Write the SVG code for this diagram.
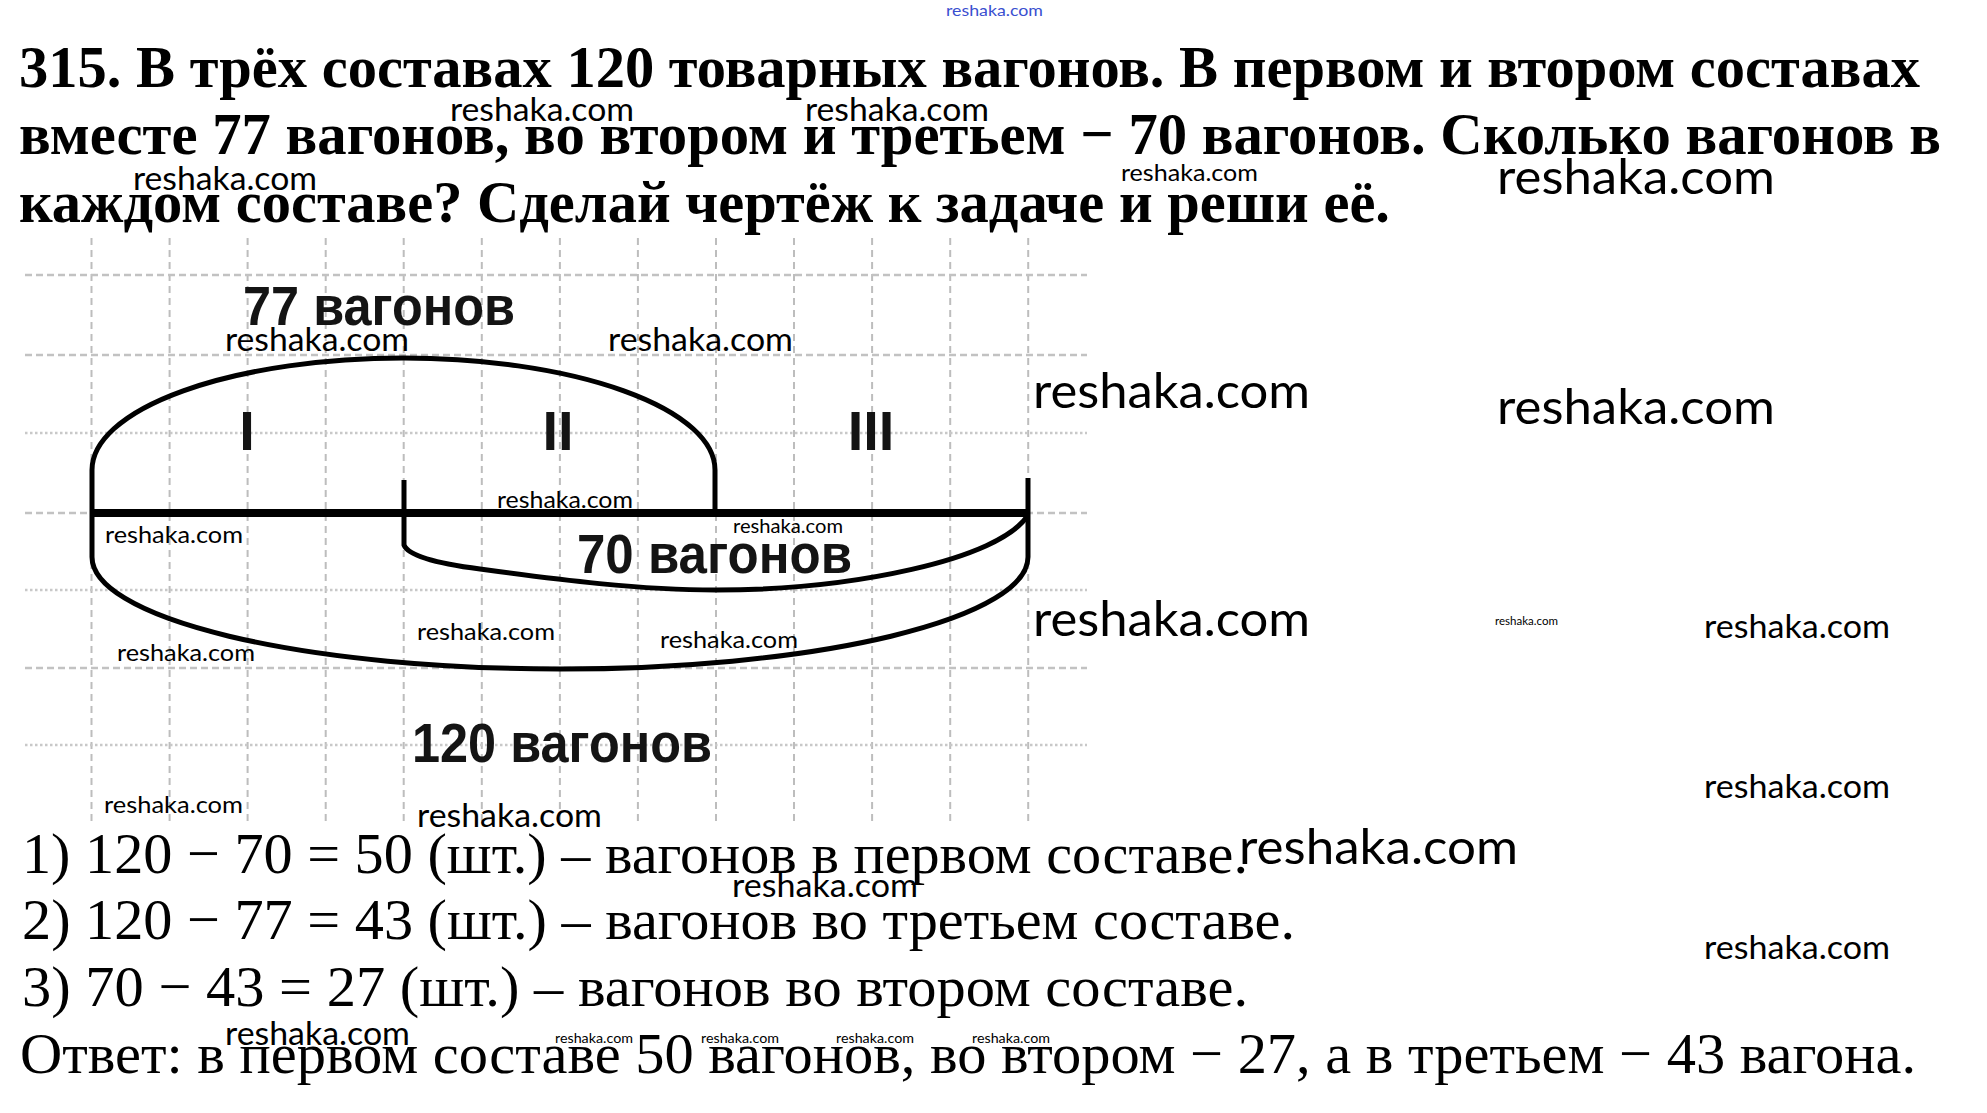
<svg xmlns="http://www.w3.org/2000/svg" width="1987" height="1113" viewBox="0 0 1987 1113">
<style>
.title{font-family:"Liberation Serif","Times New Roman",serif;font-weight:bold;font-size:60px;fill:#000}
.body{font-family:"Liberation Serif","Times New Roman",serif;font-size:58px;fill:#000}
.lbl{font-family:"Liberation Sans",Arial,sans-serif;font-weight:bold;font-size:56px;fill:#141414}
.wm{font-family:Lato,"Open Sans",sans-serif;fill:#000}
.gv{stroke:#bdbdbd;stroke-width:2;stroke-dasharray:7 5;fill:none}
.gh{stroke:#c2c2c2;stroke-width:2.5;stroke-dasharray:7 4;fill:none}
.gd{stroke:#c8c8c8;stroke-width:2.5;stroke-dasharray:2.5 2.5;fill:none}
.arc{stroke:#000;stroke-width:5;fill:none;stroke-linejoin:round}
</style>
<rect width="1987" height="1113" fill="#fff"/>
<g id="title">
<text class="title" x="19" y="87" textLength="1901" lengthAdjust="spacingAndGlyphs">315. В трёх составах 120 товарных вагонов. В первом и втором составах</text>
<text class="title" x="19" y="154" textLength="1922" lengthAdjust="spacingAndGlyphs">вместе 77 вагонов, во втором и третьем − 70 вагонов. Сколько вагонов в</text>
<text class="title" x="19" y="222" textLength="1371" lengthAdjust="spacingAndGlyphs">каждом составе? Сделай чертёж к задаче и реши её.</text>
</g>
<g id="grid">
<path class="gv" d="M91.5 238V822M169.6 238V822M247.6 238V822M325.7 238V822M403.7 238V822M481.8 238V822M559.9 238V822M637.9 238V822M716 238V822M794 238V822M872.1 238V822M950.2 238V822M1028.2 238V822"/>
<path class="gh" d="M25 275H1087M25 355H1087M25 513H1087M25 668H1087"/>
<path class="gd" d="M25 433H1087M25 590H1087M25 745H1087"/>
</g>
<g id="connectors">
<path class="arc" d="M92 513V470A311.5 112 0 0 1 715 470V513"/>
<path class="arc" d="M92 513V557A468 112 0 0 0 1028 557V513"/>
<path class="arc" d="M404 513V545Q410 560 480 569C560 580 640 590 716 590C850 590 1000 560 1028 515"/>
<path class="arc" d="M404 480V513M1028 478V513"/>
<path d="M90 513H1030" stroke="#000" stroke-width="8"/>
</g>
<g id="node-77">
<text class="lbl" x="243" y="325" textLength="272" lengthAdjust="spacingAndGlyphs">77 вагонов</text>
</g>
<g id="node-70">
<text class="lbl" x="577" y="573" textLength="275" lengthAdjust="spacingAndGlyphs">70 вагонов</text>
</g>
<g id="node-120">
<text class="lbl" x="412" y="762" textLength="300" lengthAdjust="spacingAndGlyphs">120 вагонов</text>
</g>
<g id="node-I"><text class="lbl" x="247" y="450" text-anchor="middle">I</text></g>
<g id="node-II"><text class="lbl" x="558" y="450" text-anchor="middle">II</text></g>
<g id="node-III"><text class="lbl" x="871" y="450" text-anchor="middle">III</text></g>
<g id="solution">
<text class="body" x="22" y="873" textLength="1226" lengthAdjust="spacingAndGlyphs">1) 120 − 70 = 50 (шт.) – вагонов в первом составе.</text>
<text class="body" x="22" y="939" textLength="1273" lengthAdjust="spacingAndGlyphs">2) 120 − 77 = 43 (шт.) – вагонов во третьем составе.</text>
<text class="body" x="22" y="1006" textLength="1226" lengthAdjust="spacingAndGlyphs">3) 70 − 43 = 27 (шт.) – вагонов во втором составе.</text>
<text class="body" x="20" y="1073" textLength="1896" lengthAdjust="spacingAndGlyphs">Ответ: в первом составе 50 вагонов, во втором − 27, а в третьем − 43 вагона.</text>
</g>
<g id="watermarks">
<text class="wm" x="946" y="16" font-size="15" fill="#3a4fd0" style="fill:#3a4fd0" textLength="97" lengthAdjust="spacingAndGlyphs">reshaka.com</text>
<text class="wm" x="450" y="121" font-size="32" textLength="184" lengthAdjust="spacingAndGlyphs">reshaka.com</text>
<text class="wm" x="805" y="121" font-size="32" textLength="184" lengthAdjust="spacingAndGlyphs">reshaka.com</text>
<text class="wm" x="133" y="190" font-size="32" textLength="184" lengthAdjust="spacingAndGlyphs">reshaka.com</text>
<text class="wm" x="1121" y="181" font-size="24" textLength="137" lengthAdjust="spacingAndGlyphs">reshaka.com</text>
<text class="wm" x="1497" y="194" font-size="48" textLength="278" lengthAdjust="spacingAndGlyphs">reshaka.com</text>
<text class="wm" x="225" y="351" font-size="32" textLength="184" lengthAdjust="spacingAndGlyphs">reshaka.com</text>
<text class="wm" x="608" y="351" font-size="32" textLength="185" lengthAdjust="spacingAndGlyphs">reshaka.com</text>
<text class="wm" x="1033" y="408" font-size="48" textLength="277" lengthAdjust="spacingAndGlyphs">reshaka.com</text>
<text class="wm" x="1497" y="424" font-size="48" textLength="278" lengthAdjust="spacingAndGlyphs">reshaka.com</text>
<text class="wm" x="497" y="508" font-size="24" textLength="136" lengthAdjust="spacingAndGlyphs">reshaka.com</text>
<text class="wm" x="733" y="533" font-size="20" textLength="110" lengthAdjust="spacingAndGlyphs">reshaka.com</text>
<text class="wm" x="105" y="543" font-size="24" textLength="138" lengthAdjust="spacingAndGlyphs">reshaka.com</text>
<text class="wm" x="1033" y="636" font-size="48" textLength="277" lengthAdjust="spacingAndGlyphs">reshaka.com</text>
<text class="wm" x="1495" y="625" font-size="11" textLength="63" lengthAdjust="spacingAndGlyphs">reshaka.com</text>
<text class="wm" x="1704" y="638" font-size="32" textLength="186" lengthAdjust="spacingAndGlyphs">reshaka.com</text>
<text class="wm" x="417" y="640" font-size="24" textLength="138" lengthAdjust="spacingAndGlyphs">reshaka.com</text>
<text class="wm" x="660" y="648" font-size="24" textLength="138" lengthAdjust="spacingAndGlyphs">reshaka.com</text>
<text class="wm" x="117" y="661" font-size="24" textLength="138" lengthAdjust="spacingAndGlyphs">reshaka.com</text>
<text class="wm" x="104" y="813" font-size="24" textLength="139" lengthAdjust="spacingAndGlyphs">reshaka.com</text>
<text class="wm" x="417" y="827" font-size="32" textLength="185" lengthAdjust="spacingAndGlyphs">reshaka.com</text>
<text class="wm" x="1704" y="798" font-size="32" textLength="186" lengthAdjust="spacingAndGlyphs">reshaka.com</text>
<text class="wm" x="1239" y="864" font-size="48" textLength="279" lengthAdjust="spacingAndGlyphs">reshaka.com</text>
<text class="wm" x="732" y="897" font-size="32" textLength="186" lengthAdjust="spacingAndGlyphs">reshaka.com</text>
<text class="wm" x="1704" y="959" font-size="32" textLength="186" lengthAdjust="spacingAndGlyphs">reshaka.com</text>
<text class="wm" x="225" y="1045" font-size="32" textLength="185" lengthAdjust="spacingAndGlyphs">reshaka.com</text>
<text class="wm" x="555" y="1043" font-size="14" textLength="78" lengthAdjust="spacingAndGlyphs">reshaka.com</text>
<text class="wm" x="701" y="1043" font-size="14" textLength="78" lengthAdjust="spacingAndGlyphs">reshaka.com</text>
<text class="wm" x="836" y="1043" font-size="14" textLength="78" lengthAdjust="spacingAndGlyphs">reshaka.com</text>
<text class="wm" x="972" y="1043" font-size="14" textLength="78" lengthAdjust="spacingAndGlyphs">reshaka.com</text>
</g>
</svg>
